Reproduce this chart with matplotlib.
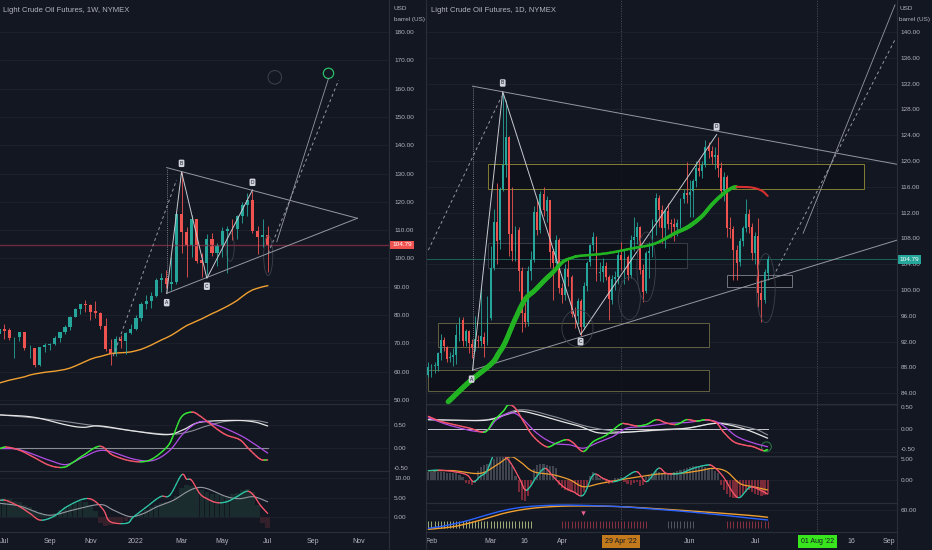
import numpy as np
import matplotlib.pyplot as plt
from matplotlib.collections import LineCollection
from matplotlib.patches import Rectangle, Ellipse
from matplotlib import font_manager
import matplotlib.transforms as mtrans

W, H = 932, 550
BG = '#131722'
TXT = '#b2b5be'
GRID = '#1e222d'
SEP = '#2a2e39'
UP = '#26a69a'
DN = '#ef5350'

names = {f.name for f in font_manager.fontManager.ttflist}
FONT = 'Liberation Sans Narrow' if 'Liberation Sans Narrow' in names else 'Liberation Sans'
plt.rcParams['font.family'] = [FONT, 'DejaVu Sans']

# ---------------- weekly data (left, 1W), index 0 = week of 28 Jun 2021
w_open = [73.5, 75.2, 74.6, 71.8, 72.1, 74.0, 68.3, 68.4, 62.3, 68.7,
          69.3, 69.7, 72.0, 74.0, 75.9, 79.4, 82.3, 83.8, 83.6, 81.3,
          80.8, 76.1, 68.2, 66.3, 71.7, 70.9, 73.8, 75.2, 78.9, 83.8,
          85.1, 86.8, 92.3, 93.1, 91.1, 91.6, 115.7, 109.3, 104.7, 113.9,
          99.3, 98.3, 107.0, 102.1, 104.7, 109.8, 110.5, 110.3, 115.1, 118.9,
          120.7, 109.6, 107.6, 108.4]
w_close = [75.16, 74.56, 71.81, 72.07, 73.95, 68.28, 68.44, 62.32, 68.74, 69.29,
           69.72, 71.97, 73.98, 75.88, 79.35, 82.28, 83.76, 83.57, 81.27, 80.79,
           76.10, 68.15, 66.26, 71.67, 70.86, 73.79, 75.21, 78.90, 83.82, 85.14,
           86.82, 92.31, 93.10, 91.07, 91.59, 115.68, 109.33, 104.70, 113.90, 99.27,
           98.26, 106.95, 102.07, 104.69, 109.77, 110.49, 110.28, 115.07, 118.87, 120.67,
           109.56, 107.62, 108.43, 104.79]
w_high = [76.9, 76.98, 75.5, 72.4, 74.0, 73.8, 69.5, 67.5, 68.9, 70.0,
          70.0, 72.5, 74.0, 76.6, 79.8, 82.6, 84.0, 85.4, 84.0, 84.9,
          81.0, 79.0, 71.5, 72.5, 72.8, 74.0, 77.0, 80.2, 84.8, 87.0,
          88.0, 93.2, 94.9, 95.8, 100.5, 116.5, 130.5, 111.0, 115.4, 107.5,
          102.0, 108.5, 109.0, 105.5, 111.0, 111.5, 114.0, 115.5, 120.0, 123.0,
          123.7, 111.5, 114.0, 111.5]
w_low = [73.3, 71.5, 71.2, 65.0, 71.0, 67.6, 65.0, 61.7, 62.0, 67.0,
         67.6, 69.5, 70.5, 73.5, 74.6, 79.5, 80.5, 81.0, 78.3, 79.0,
         75.0, 67.4, 62.4, 65.5, 68.5, 66.1, 73.5, 74.6, 78.0, 82.0,
         82.5, 86.5, 88.0, 89.5, 89.0, 91.0, 102.0, 93.5, 100.5, 98.5,
         93.5, 94.0, 101.0, 97.5, 100.5, 95.0, 106.5, 107.0, 112.5, 115.0,
         109.0, 101.5, 104.0, 95.1]
w_ma = [56.0, 56.5, 57.0, 57.4, 57.8, 58.2, 58.8, 59.2, 59.5, 59.8,
        60.0, 60.2, 60.5, 60.8, 61.3, 62.0, 62.8, 63.6, 64.4, 65.0,
        65.4, 65.9, 66.4, 66.6, 66.7, 66.8, 67.0, 67.4, 67.9, 68.6,
        69.4, 70.3, 71.2, 72.0, 72.9, 74.0, 75.2, 76.3, 77.1, 77.9,
        78.7, 79.6, 80.5, 81.3, 82.2, 83.1, 84.1, 85.2, 86.6, 87.9,
        88.9, 89.5, 90.0, 90.4]
w_hist = [4.5, 4.8, 4.6, 4.2, 3.8, 3.0, 2.5, 1.8, 1.2, 0.8,
          0.6, 1.0, 1.8, 2.5, 3.2, 3.8, 4.0, 3.8, 3.0, 1.5,
          -1.5, -2.2, -2.0, -1.8, -1.5, -1.0, -0.5, 0.2, 1.0, 1.8,
          2.6, 3.2, 3.6, 3.8, 4.0, 5.5, 7.5, 8.2, 8.0, 7.6,
          7.0, 6.4, 6.0, 5.8, 5.6, 5.5, 5.8, 6.2, 6.8, 7.2,
          6.5, 3.0, -1.5, -2.8]
w_ticks = [1, 10, 18, 27, 36, 44, 53, 62, 71]
w_labels = ['Jul', 'Sep', 'Nov', '2022', 'Mar', 'May', 'Jul', 'Sep', 'Nov']

# left oscillator 1
lo_fast_x = [0.2, 1.5, 4.1, 6.8, 10.0, 12.7, 14.6, 16.6, 19.9, 22.5, 26.5, 29.8, 33.1, 34.4, 36.0, 38.0, 39.6, 42.9, 44.9, 47.5, 49.2, 51.5, 53.0]
lo_fast_y = [-0.01, 0.02, -0.05, -0.20, -0.38, -0.42, -0.31, -0.16, 0.04, -0.16, -0.29, -0.26, 0.02, 0.28, 0.68, 0.78, 0.70, 0.42, 0.28, 0.18, -0.01, -0.24, -0.26]
lo_sig_x = [0.2, 4.1, 10.0, 13.3, 16.6, 20.6, 26.5, 30.4, 33.7, 36.4, 39.6, 42.9, 47.5, 50.2, 53.0]
lo_sig_y = [-0.01, -0.04, -0.27, -0.36, -0.20, -0.05, -0.24, -0.27, -0.05, 0.32, 0.57, 0.50, 0.28, 0.10, -0.11]
lo_slow_x = [0.2, 6.8, 13.3, 16.6, 19.9, 26.5, 33.1, 36.4, 39.6, 46.2, 50.2, 53.0]
lo_slow_y = [0.72, 0.67, 0.50, 0.45, 0.48, 0.37, 0.29, 0.40, 0.56, 0.60, 0.57, 0.48]
lo_slow2_x = [0.2, 10.0, 16.6, 23.2, 29.8, 34.4, 37.7, 41.0, 44.9, 50.2, 53.0]
lo_slow2_y = [0.72, 0.62, 0.52, 0.42, 0.33, 0.30, 0.36, 0.48, 0.58, 0.60, 0.55]

# left oscillator 2
lm_fast_x = [0.2, 1.5, 4.1, 6.1, 8.1, 10.7, 13.3, 16.6, 18.6, 20.6, 21.9, 25.2, 26.5, 29.1, 31.8, 33.7, 36.0, 37.0, 38.0, 39.6, 41.0, 42.9, 44.9, 46.9, 48.9, 50.2, 51.5, 53.0]
lm_fast_y = [4.3, 4.2, 2.6, 0.9, -0.8, 0.1, 2.6, 4.6, 4.3, 1.8, -1.2, -1.6, 0.0, 2.6, 5.2, 5.6, 10.8, 9.7, 9.4, 6.0, 4.7, 3.7, 3.9, 5.2, 6.6, 5.6, 3.1, 0.9]
lm_sig_x = [0.2, 4.1, 8.1, 10.7, 14.6, 19.9, 22.5, 25.8, 28.5, 31.1, 34.4, 37.0, 39.0, 41.0, 44.9, 47.5, 50.2, 53.0]
lm_sig_y = [3.5, 2.8, 0.9, 0.5, 1.8, 3.2, 1.8, 0.1, 0.9, 2.6, 4.3, 6.4, 7.5, 7.3, 5.2, 4.7, 5.2, 3.9]

# ---------------- daily data (right, 1D), index 0 = 31 Jan 2022, 109 = 08 Jul 2022
d_open = [86.8, 88.2, 88.2, 88.3, 90.2, 92.3, 91.2, 89.4, 89.7, 89.9,
          93.0, 95.4, 92.1, 93.6, 91.7, 91.0, 92.3, 92.1, 92.8, 92.0,
          95.7, 103.4, 110.6, 107.7, 115.7, 119.4, 123.7, 108.7, 106.0, 109.3,
          103.0, 96.4, 95.0, 103.0, 104.7, 112.1, 109.3, 114.9, 112.3, 113.9,
          106.0, 104.2, 107.8, 100.3, 99.3, 103.3, 102.0, 96.2, 96.0, 98.3,
          94.3, 100.6, 104.3, 107.0, 108.2, 102.6, 102.8, 103.8, 102.1, 98.5,
          101.7, 102.0, 105.4, 104.7, 105.2, 102.4, 107.8, 108.3, 109.8, 103.1,
          99.8, 105.7, 106.1, 110.5, 114.2, 112.4, 109.6, 112.2, 110.3, 110.3,
          109.8, 110.3, 114.1, 115.1, 114.7, 115.3, 116.9, 118.9, 118.5, 119.4,
          122.1, 121.5, 120.7, 120.9, 118.9, 115.3, 117.6, 109.6, 109.5, 106.2,
          104.3, 107.6, 109.6, 111.8, 109.8, 105.8, 108.4, 99.5, 98.5, 102.7]
d_close = [88.15, 88.20, 88.26, 90.27, 92.31, 91.32, 89.36, 89.66, 89.88, 93.10,
           95.46, 92.07, 93.66, 91.76, 91.07, 92.35, 92.10, 92.81, 91.59, 95.72,
           103.41, 110.60, 107.67, 115.68, 119.40, 123.70, 108.70, 106.02, 109.33, 103.01,
           96.44, 95.04, 102.98, 104.70, 112.12, 109.27, 114.93, 112.34, 113.90, 105.96,
           104.24, 107.82, 100.28, 99.27, 103.28, 101.96, 96.23, 96.03, 98.26, 94.29,
           100.60, 104.25, 106.95, 108.21, 102.56, 102.75, 103.79, 102.07, 98.54, 101.70,
           102.02, 105.36, 104.69, 105.17, 102.41, 107.81, 108.26, 109.77, 103.09, 99.76,
           105.71, 106.13, 110.49, 114.20, 112.40, 109.59, 112.21, 110.28, 110.29, 109.77,
           110.33, 114.09, 115.07, 114.67, 115.26, 116.87, 118.87, 118.50, 119.41, 122.11,
           121.51, 120.67, 120.93, 118.93, 115.31, 117.59, 109.56, 109.52, 106.19, 104.27,
           107.62, 109.57, 111.76, 109.78, 105.76, 108.43, 99.50, 98.53, 102.73, 104.79]
d_high = [88.8, 88.6, 88.8, 90.4, 93.2, 92.7, 91.4, 90.4, 91.0, 94.7,
          95.8, 95.8, 93.9, 93.8, 92.4, 96.0, 93.0, 100.5, 93.5, 99.1,
          106.8, 112.5, 116.6, 116.0, 130.5, 129.4, 123.9, 116.0, 110.0, 109.7,
          103.5, 98.3, 103.7, 106.0, 113.0, 114.0, 115.4, 116.0, 114.6, 114.0,
          106.3, 108.5, 108.0, 101.1, 104.0, 104.9, 102.4, 97.4, 98.8, 98.6,
          101.2, 104.5, 107.2, 109.0, 108.4, 104.4, 105.0, 104.3, 102.3, 102.4,
          103.0, 106.1, 107.5, 106.4, 105.5, 108.6, 111.4, 110.6, 110.0, 104.0,
          106.1, 107.4, 111.0, 115.0, 114.7, 113.2, 112.5, 113.5, 111.0, 111.2,
          111.0, 114.3, 115.6, 119.9, 117.0, 117.2, 120.0, 120.2, 120.0, 123.2,
          123.0, 122.4, 122.2, 123.7, 119.9, 118.3, 117.9, 111.3, 110.0, 107.0,
          108.0, 110.0, 114.1, 112.5, 110.4, 109.0, 111.2, 101.6, 103.2, 105.3]
d_low = [86.5, 86.6, 87.1, 87.5, 89.2, 90.6, 88.8, 88.9, 88.2, 88.6,
         92.1, 91.3, 91.3, 90.3, 89.4, 90.6, 91.2, 91.4, 89.7, 91.5,
         95.4, 103.1, 104.0, 106.4, 115.4, 117.5, 105.3, 104.5, 104.5, 99.8,
         93.5, 94.2, 94.5, 101.5, 104.3, 108.5, 108.8, 111.5, 110.6, 103.5,
         98.4, 103.2, 99.5, 98.0, 98.5, 100.6, 95.8, 94.1, 94.8, 92.9,
         93.9, 99.8, 103.8, 106.0, 101.4, 101.4, 101.3, 101.5, 95.3, 97.9,
         100.0, 100.9, 103.1, 101.0, 101.5, 101.8, 106.1, 107.2, 102.5, 98.2,
         99.6, 101.9, 105.2, 108.5, 109.8, 107.3, 106.5, 109.5, 108.2, 107.6,
         108.4, 109.6, 113.5, 113.5, 111.4, 111.3, 115.9, 117.7, 117.3, 119.0,
         120.5, 119.6, 118.8, 117.5, 114.3, 113.8, 108.2, 108.0, 101.5, 101.5,
         103.8, 106.8, 109.0, 108.8, 104.6, 104.0, 97.4, 95.1, 98.0, 101.6]
d_hist = [1.8, 1.9, 2.0, 1.9, 1.8, 1.7, 1.6, 1.5, 1.6, 1.5,
          1.2, 0.8, -0.6, -0.9, -1.0, -0.6, 2.0, 2.8, 3.4, 3.6,
          4.0, 4.6, 5.0, 5.2, 5.4, 5.2, 4.8, 3.0, 1.0, -2.5,
          -4.2, -4.6, -3.5, -1.0, 2.5, 3.4, 3.6, 3.5, 3.4, 3.2,
          3.0, 2.6, -1.0, -1.6, -2.0, -2.4, -2.6, -2.8, -3.0, -3.2,
          -2.6, -1.5, 1.0, 1.8, 1.2, 0.6, 0.4, -0.4, -0.8, -0.6,
          0.4, 0.6, 0.8, -0.4, -0.8, -1.0, -0.6, -0.4, -1.2, -1.0,
          0.8, 1.2, 1.6, 2.0, 1.8, 1.6, 1.4, 1.5, 1.6, 1.8,
          2.0, 2.2, 2.4, 2.6, 2.8, 3.0, 3.1, 3.2, 3.0, 2.8,
          2.6, 2.4, 2.0, 1.5, -1.0, -2.0, -3.0, -3.6, -3.9, -3.8,
          -3.4, -3.0, -2.6, -2.2, -2.6, -3.0, -3.2, -3.4, -3.2, -3.0]
d_ticks = [1, 20, 31, 43, 84, 105, 136, 148]
d_labels = ['Feb', 'Mar', '16', 'Apr', 'Jun', 'Jul', '16', 'Sep']
d_marks = [(62, "29 Apr '22", '#c27a1c'), (125, "01 Aug '22", '#39e61e')]

# green/red moving band on the daily chart
gma_x = [6.4, 13.2, 20.3, 22.6, 24.6, 27.8, 31.0, 34.3, 37.5, 40.1, 43.3, 46.7, 48.7, 57.3, 65.9, 72.8, 79.2, 83.5, 87.8, 91.0, 94.2, 97.4, 99.0]
gma_y = [82.7, 85.8, 88.6, 90.2, 91.8, 95.4, 98.5, 100.0, 101.6, 102.8, 104.4, 105.1, 105.3, 105.7, 106.5, 107.2, 108.8, 109.8, 111.4, 113.2, 114.7, 115.8, 116.0]
rma_x = [99.0, 103.9, 107.1, 109.0]
rma_y = [116.0, 115.9, 115.4, 114.6]

# right oscillator 1
ro_fast_x = [0, 3.7, 8, 13.4, 18.2, 20.9, 24.1, 25.7, 27.8, 30.5, 33.7, 38, 41.2, 44.4, 46.6, 49.8, 53, 57.3, 61.6, 63.7, 66.9, 70.1, 73.3, 76.5, 79.8, 83, 86.2, 89.4, 92.6, 94.7, 98, 101.2, 104.4, 107.5, 109]
ro_fast_y = [0.26, 0.16, 0.09, 0.01, -0.07, 0.16, 0.37, 0.50, 0.44, 0.16, -0.16, -0.38, -0.30, -0.23, -0.30, -0.48, -0.27, -0.13, 0.09, 0.10, 0.06, 0.09, 0.19, 0.12, 0.09, 0.19, 0.16, 0.19, 0.12, -0.06, -0.27, -0.34, -0.38, -0.46, -0.44]
ro_sig_x = [0, 8, 17.7, 21.9, 26.2, 29.4, 34.8, 40.1, 45.5, 49.8, 54.1, 59.4, 63.7, 70.1, 76.6, 83, 89.4, 93.7, 99, 104.4, 109]
ro_sig_y = [0.23, 0.05, -0.06, 0.19, 0.33, 0.26, -0.09, -0.30, -0.34, -0.41, -0.30, -0.16, 0.01, 0.05, 0.11, 0.13, 0.18, 0.11, -0.16, -0.30, -0.38]
ro_slow_x = [0, 8, 18.7, 25.2, 29.4, 34.8, 42.3, 48.7, 54.1, 59.4, 66.9, 74.4, 83, 91.5, 95.8, 102.2, 109]
ro_slow_y = [0.19, 0.18, 0.18, 0.30, 0.37, 0.30, 0.16, 0.05, -0.08, -0.09, -0.06, -0.02, 0.01, 0.11, 0.09, -0.02, -0.20]
ro_slow2_x = [0, 18.7, 29.4, 40.1, 50.9, 61.6, 72.3, 83, 93.7, 104.4, 109]
ro_slow2_y = [0.19, 0.19, 0.40, 0.26, 0.05, -0.06, -0.04, 0.01, 0.12, 0.0, -0.13]

# right oscillator 2
rm_fast_x = [0, 3.7, 8, 12.3, 14.5, 16.6, 18.7, 20.3, 21.4, 23, 26.2, 29.4, 31.1, 32.7, 34.8, 37.5, 40.1, 43.4, 46.6, 49.8, 53, 56.2, 59.4, 62.6, 66.9, 70.1, 73.9, 76.5, 80.8, 85.1, 89.4, 91.5, 94.7, 98, 100.1, 103.3, 106.5, 109]
rm_fast_y = [2.1, 2.2, 1.9, 1.2, -0.3, 0.8, 1.9, 4.5, 6.2, 6.0, 4.0, 0.2, -2.1, -1.4, 0.8, 2.6, 0.8, -1.4, -2.5, -3.2, 1.2, 0.4, -0.3, 0.4, 1.9, -0.3, 2.6, 1.5, 1.5, 2.6, 3.3, 3.0, 0.8, -2.8, -3.7, -1.5, -2.1, -3.0]
rm_sig_x = [0, 8, 16.6, 21.9, 26.2, 29.4, 33.7, 40.1, 45.5, 49.8, 55.1, 61.6, 68, 74.4, 80.8, 87.2, 91.5, 95.8, 100.1, 104.4, 109]
rm_sig_y = [2.1, 2.1, 1.5, 3.3, 5.1, 4.1, 1.9, 1.2, 0.1, -1.4, -0.7, 0.1, 0.8, 1.4, 1.5, 2.1, 2.6, 1.9, -0.7, -1.4, -2.1]

# right oscillator 3
rb_x = [0, 4, 8, 12, 16, 20, 24, 29, 35, 43, 52, 62, 72, 83, 94, 104, 109]
rb_blue = [35.1, 37.5, 41.0, 45.0, 50.0, 55.0, 59.5, 63.5, 66.0, 67.2, 66.5, 64.9, 61.8, 58.1, 53.5, 48.8, 46.6]
rb_orange = [33.7, 35.2, 37.3, 41.0, 45.5, 50.5, 55.5, 60.0, 63.5, 65.6, 65.9, 64.9, 62.5, 59.4, 56.0, 52.6, 50.3]
rb_green_bars = (0, 34)
rb_red_bars = [(43, 71), (96, 110)]
rb_gray_bars = (77, 86)


def smooth(xs, ys, n=8):
    xs = np.asarray(xs, float)
    ys = np.asarray(ys, float)
    px = np.concatenate([[2 * xs[0] - xs[1]], xs, [2 * xs[-1] - xs[-2]]])
    py = np.concatenate([[2 * ys[0] - ys[1]], ys, [2 * ys[-1] - ys[-2]]])
    t = np.linspace(0, 1, n, endpoint=False)
    ox, oy = [], []
    for i in range(1, len(px) - 2):
        for arr, out in ((px, ox), (py, oy)):
            p0, p1, p2, p3 = arr[i - 1:i + 3]
            out.extend(0.5 * (2 * p1 + (-p0 + p2) * t + (2 * p0 - 5 * p1 + 4 * p2 - p3) * t ** 2
                              + (-p0 + 3 * p1 - 3 * p2 + p3) * t ** 3))
    ox.append(xs[-1])
    oy.append(ys[-1])
    return np.array(ox), np.array(oy)


def line(ax, xs, ys, color, lw=0.9, **kw):
    sx, sy = smooth(xs, ys)
    ax.plot(sx, sy, color=color, lw=lw, solid_capstyle='round', **kw)


def slope_line(ax, xs, ys, up, down, lw=1.0):
    sx, sy = smooth(xs, ys)
    pts = np.column_stack([sx, sy])
    segs = np.stack([pts[:-1], pts[1:]], axis=1)
    cols = [up if b >= a else down for a, b in zip(sy[:-1], sy[1:])]
    ax.add_collection(LineCollection(segs, colors=cols, linewidths=lw, capstyle='round'))


def candles(ax, o, h, l, c, width=0.62):
    x = np.arange(len(c))
    o, h, l, c = map(np.asarray, (o, h, l, c))
    cols = np.where(c >= o, UP, DN)
    ax.vlines(x, l, h, colors=cols, lw=0.6)
    body = np.maximum(np.abs(c - o), 0.15)
    ax.bar(x, body, bottom=np.minimum(o, c), width=width, color=cols, lw=0)


fig = plt.figure(figsize=(W / 100, H / 100), dpi=100, facecolor=BG)


def pax(x0, y0, x1, y1):
    ax = fig.add_axes([x0 / W, 1 - y1 / H, (x1 - x0) / W, (y1 - y0) / H])
    ax.set_facecolor(BG)
    for s in ax.spines.values():
        s.set_visible(False)
    ax.tick_params(axis='both', length=0, colors=TXT, labelsize=4.6)
    ax.yaxis.tick_right()
    ax.set_xticks([])
    return ax


def yticks(ax, vals, pad, top=None, bottom=None):
    ax.set_yticks(vals)
    ax.set_yticklabels(['%.2f' % v for v in vals])
    ax.tick_params(axis='y', pad=pad)
    for v, lab in zip(vals, ax.get_yticklabels()):
        if v == top:
            lab.set_va('top')
        if v == bottom:
            lab.set_va('bottom')
    for v in vals:
        ax.axhline(v, color=GRID, lw=0.6, zorder=0)


# ================= LEFT PANEL (weekly) =================
LX = (0.172, 76.94)
lm = pax(0, 0, 389, 404)
lm.set_xlim(*LX)
lm.set_ylim(48.6, 191.3)
yticks(lm, list(range(50, 181, 10)), 3.6)
lm.plot(np.arange(len(w_ma)), w_ma, color='#f0a030', lw=1.0)
lm.axhline(104.79, color='#6e2a3e', lw=1.0)
candles(lm, w_open, w_high, w_low, w_close)

# drawings
lA, lB, lC, lD = (33.07, 87.7), (36.0, 130.6), (41.0, 93.0), (50.0, 124.2)
apex = (70.7, 114.2)
dc = '#9598a1'
lm.plot([lA[0], lA[0]], [lA[1], 132.1], color=dc, lw=0.6, ls=(0, (1, 1.5)))
lm.plot([lA[0], apex[0]], [132.1, apex[1]], color=dc, lw=0.7)
lm.plot([lA[0], apex[0]], [lA[1], apex[1]], color=dc, lw=0.7)
lm.plot([lA[0], lB[0], lC[0], lD[0]], [lA[1], lB[1], lC[1], lD[1]], color='#c8cad0', lw=0.7)
lm.plot([22.5, 35.0], [65.5, 127.7], color=dc, lw=0.7, ls=(0, (3, 3)))
lm.plot([54.8, 65.0], [105.9, 163.6], color=dc, lw=0.6)
lm.plot([53.1, 67.0], [101.8, 163.0], color=dc, lw=0.7, ls=(0, (3, 3)))
lm.scatter([65.0], [165.4], s=55, facecolors='none', edgecolors='#2bbf6a', lw=0.9)
lm.scatter([54.4], [164.0], s=95, facecolors='none', edgecolors='#3a3e4a', lw=0.8)
lm.add_patch(Ellipse((45.6, 104.0), 1.6, 10, fill=False, ec='#3d414c', lw=0.6))
lm.add_patch(Ellipse((53.1, 101.0), 1.8, 14, fill=False, ec='#3d414c', lw=0.6))
for (x, y), t in zip([(33.07, 84.4), (36.0, 133.6), (41.0, 90.2), (50.0, 126.9)], 'ABCD'):
    lm.text(x, y, t, fontsize=3.5, color=BG, ha='center', va='center',
            bbox=dict(boxstyle='round,pad=0.25', fc='#d1d4dc', ec='none'))
lm.text(0.008, 0.975, 'Light Crude Oil Futures, 1W, NYMEX', transform=lm.transAxes,
        color=TXT, fontsize=5.5, va='center')
tr = mtrans.blended_transform_factory(lm.transAxes, lm.transData)
lm.text(1.008, 104.79, '104.79', transform=tr, color='white', fontsize=4.6, va='center',
        ha='left', bbox=dict(boxstyle='square,pad=0.3', fc=DN, ec='none'), zorder=10)
fig.text(394 / W, 1 - 8 / H, 'USD', color=TXT, fontsize=4.6, va='center')
fig.text(394 / W, 1 - 20 / H, 'barrel (US)', color=TXT, fontsize=4.6, va='center')

l1 = pax(0, 404, 389, 471)
l1.set_xlim(*LX)
l1.set_ylim(-0.5, 0.957)
yticks(l1, [0.5, 0.0, -0.5], 3.6, bottom=-0.5)
l1.plot([0, 53], [0, 0], color='#8a8d96', lw=0.8)
line(l1, lo_slow2_x, lo_slow2_y, '#8a8d96', 0.8)
line(l1, lo_slow_x, lo_slow_y, '#e6e6e6', 0.9)
line(l1, lo_sig_x, lo_sig_y, '#b24ee6', 0.9)
slope_line(l1, lo_fast_x, lo_fast_y, '#36e636', '#f2556a', 1.0)

l2 = pax(0, 471, 389, 532)
l2.set_xlim(*LX)
l2.set_ylim(-3.85, 11.8)
yticks(l2, [10, 5, 0], 3.6)
wh = np.asarray(w_hist)
l2.bar(np.arange(len(wh)), wh, width=0.9, color=np.where(wh >= 0, '#1a2c2e', '#33202a'), lw=0)
line(l2, lm_sig_x, lm_sig_y, '#9598a1', 0.8)
slope_line(l2, lm_fast_x, lm_fast_y, '#2ec4a6', '#f2556a', 0.9)
l2.set_xticks(w_ticks)
l2.set_xticklabels(w_labels)
l2.tick_params(axis='x', pad=4, labelsize=5, colors=TXT)

# ================= RIGHT PANEL (daily) =================
RX = (-0.75, 150.55)
rm = pax(426, 0, 897, 404)
rm.set_xlim(*RX)
rm.set_ylim(82.34, 144.96)
yticks(rm, list(range(84, 141, 4)), 2.5)

rects = [(19.1, 140.0, 115.6, 119.5, '#8f8a36'), (3.0, 90.0, 91.2, 94.9, '#6b6946'),
         (0.0, 90.0, 84.3, 87.6, '#6b6946'), (19.3, 83.0, 103.4, 107.3, '#3d414c'),
         (95.8, 116.9, 100.5, 102.3, '#7d808a')]
for x0, x1, y0, y1, ec in rects:
    rm.add_patch(Rectangle((x0, y0), x1 - x0, y1 - y0, fc='#0e1118', ec=ec, lw=0.7, alpha=0.9, zorder=1))

rm.axhline(104.79, color='#1f6f66', lw=0.6, zorder=1)

# moving band
sx, sy = smooth(gma_x, gma_y)
pts = np.column_stack([sx, sy])
segs = np.stack([pts[:-1], pts[1:]], axis=1)
widths = np.interp(sx[:-1], [6, 38, 46, 72, 84, 99], [3.8, 3.4, 1.8, 1.8, 3.0, 2.3])
rm.add_collection(LineCollection(segs, colors='#22b322', linewidths=widths, capstyle='round', zorder=3))
line(rm, rma_x, rma_y, '#d83030', 1.5, zorder=3)

candles(rm, d_open, d_high, d_low, d_close, width=0.6)

rA, rB, rC, rD = (14.2, 87.6), (23.9, 130.75), (48.9, 93.1), (92.6, 124.1)
rm.plot([rA[0], rA[0]], [rA[1], 131.6], color=dc, lw=0.6, ls=(0, (1, 1.5)))
rm.plot([14.2, 161.8], [131.6, 118.5], color=dc, lw=0.7)
rm.plot([14.2, 161.8], [87.6, 109.4], color=dc, lw=0.7)
rm.plot([rA[0], rB[0], rC[0], rD[0]], [rA[1], rB[1], rC[1], rD[1]], color='#c8cad0', lw=0.7)
rm.plot([0.0, 23.5], [106.2, 130.0], color=dc, lw=0.7, ls=(0, (3, 3)))
rm.plot([120.4, 149.9], [108.8, 144.2], color=dc, lw=0.6)
rm.plot([110.8, 149.9], [102.1, 138.8], color=dc, lw=0.7, ls=(0, (3, 3)))
for (cx, cy, ew, eh) in [(47.9, 94.1, 10, 5.7), (70.0, 103.6, 6, 10.8),
                         (64.6, 98.7, 7, 6.6), (108.4, 100.3, 6, 10.7)]:
    rm.add_patch(Ellipse((cx, cy), ew, eh, fill=False, ec='#3d414c', lw=0.6, zorder=2))
for (x, y), t in zip([(13.9, 86.2), (23.9, 132.1), (48.9, 92.0), (92.6, 125.3)], 'ABCD'):
    rm.text(x, y, t, fontsize=3.5, color=BG, ha='center', va='center', zorder=6,
            bbox=dict(boxstyle='round,pad=0.25', fc='#d1d4dc', ec='none'))
rm.text(0.01, 0.975, 'Light Crude Oil Futures, 1D, NYMEX', transform=rm.transAxes,
        color=TXT, fontsize=5.5, va='center')
tr = mtrans.blended_transform_factory(rm.transAxes, rm.transData)
rm.text(1.006, 104.79, '104.79', transform=tr, color='white', fontsize=4.6, va='center',
        ha='left', bbox=dict(boxstyle='square,pad=0.3', fc=UP, ec='none'), zorder=10)
fig.text(899 / W, 1 - 8 / H, 'USD', color=TXT, fontsize=4.6, va='center')
fig.text(899 / W, 1 - 20 / H, 'barrel (US)', color=TXT, fontsize=4.6, va='center')

r1 = pax(426, 404, 897, 456)
r1.set_xlim(*RX)
r1.set_ylim(-0.574, 0.52)
yticks(r1, [0.5, 0.0, -0.5], 2.5, top=0.5, bottom=-0.5)
r1.plot([0, 109], [0, 0], color='#c8cad0', lw=0.7)
line(r1, ro_slow2_x, ro_slow2_y, '#8a8d96', 0.8)
line(r1, ro_slow_x, ro_slow_y, '#e6e6e6', 0.9)
line(r1, ro_sig_x, ro_sig_y, '#b24ee6', 0.9)
slope_line(r1, ro_fast_x, ro_fast_y, '#36e636', '#f2556a', 1.0)
r1.scatter([108.6], [-0.38], s=50, facecolors='none', edgecolors='#2e7d4a', lw=0.7)

r2 = pax(426, 456, 897, 503)
r2.set_xlim(*RX)
r2.set_ylim(-4.93, 5.28)
yticks(r2, [5, 0], 2.5, top=5)
dh = np.asarray(d_hist)
r2.bar(np.arange(len(dh)), dh, width=0.7, color=np.where(dh >= 0, '#40444f', '#7a2a38'), lw=0)
line(r2, rm_sig_x, rm_sig_y, '#f0a030', 0.9)
slope_line(r2, rm_fast_x, rm_fast_y, '#2ec4a6', '#f2556a', 0.9)

r3 = pax(426, 503, 897, 532)
r3.set_xlim(*RX)
r3.set_ylim(30, 70)
yticks(r3, [60], 2.5)
bar_sets = [(range(*rb_green_bars), '#b5c98a')] + [(range(*r), '#9c3548') for r in rb_red_bars] + \
           [(range(*rb_gray_bars), '#5d606b')]
for rng, col in bar_sets:
    r3.vlines(list(rng), 35.5, 44.5, colors=col, lw=0.6)
line(r3, rb_x, rb_orange, '#f0a030', 1.0)
line(r3, rb_x, rb_blue, '#2962ff', 1.0)
r3.scatter([49.8], [56.6], marker='v', s=10, color='#f06292', lw=0)
r3.set_xticks(d_ticks)
r3.set_xticklabels(d_labels)
r3.tick_params(axis='x', pad=4, labelsize=5, colors=TXT)
for x, t, col in d_marks:
    r3.text(x, -0.32, t, transform=mtrans.blended_transform_factory(r3.transData, r3.transAxes),
            fontsize=5, color='#131722', ha='center', va='center',
            bbox=dict(boxstyle='square,pad=0.45', fc=col, ec='none'), clip_on=False)

# vertical marker lines across right panes
for ax_ in (rm, r1, r2, r3):
    for x, _, _ in d_marks:
        ax_.axvline(x, color='#4a4e59', lw=0.6, ls=(0, (1.5, 1.5)), zorder=0.5)

# separators
for y in (404, 471, 532):
    fig.add_artist(plt.Line2D([0, 389 / W], [1 - y / H] * 2, color=SEP, lw=0.8))
for y in (404, 456, 503, 532):
    fig.add_artist(plt.Line2D([426 / W, 897 / W], [1 - y / H] * 2, color=SEP, lw=0.8))
for x in (389, 426, 897):
    fig.add_artist(plt.Line2D([x / W] * 2, [0, 1], color=SEP, lw=0.8))

fig.savefig('out.png', dpi=100, facecolor=BG)
